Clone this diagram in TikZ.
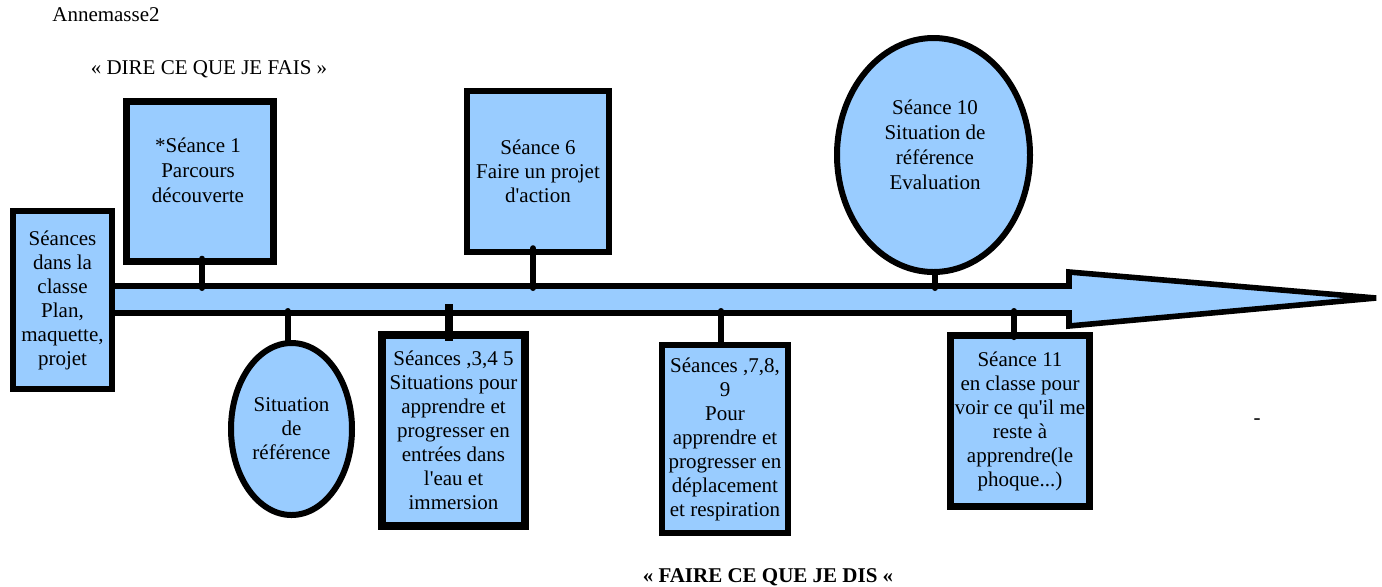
\documentclass[tikz,border=0pt]{standalone}
\usepackage{fontspec}
\setmainfont{Liberation Serif}
\usetikzlibrary{shapes.geometric,calc}
\definecolor{lb}{RGB}{153,204,255}
\newcommand{\apos}{\textquotesingle}
\tikzset{
  box/.style={draw=black, fill=lb, line width=3.2pt, rectangle, inner sep=0pt, align=center, font=\rmfamily\fontsize{10.5}{12}\selectfont},
  oval/.style={draw=black, fill=lb, line width=3pt, ellipse, inner sep=0pt, align=center, font=\rmfamily\fontsize{10.5}{12}\selectfont},
  txt/.style={inner sep=0pt, align=center, font=\rmfamily\fontsize{10.5}{12.5}\selectfont},
  stub/.style={draw=black, line width=3pt, line cap=round},
  bigarrow/.style={draw=black, fill=lb, line width=2.8pt, line join=miter}
}
\begin{document}
\begin{tikzpicture}[x=0.5pt,y=-0.5pt]
\useasboundingbox (0,0) rectangle (1382,586);
% arrow (timeline)
\draw[bigarrow] (112,286) -- (1069,286) -- (1069,272) -- (1376,298) -- (1069,326) -- (1069,313) -- (112,313) -- cycle;
\coordinate (top) at (0,288);
\coordinate (bot) at (0,311);
\coordinate (mid) at (0,304);
% headers
\node[txt] (ann) at (106,15) {Annemasse2};
\node[txt] (dire) at (209,69) {« DIRE CE QUE JE FAIS »};
\node[txt, font=\rmfamily\fontsize{10.5}{12.5}\selectfont\bfseries] (faire) at (768,577) {« FAIRE CE QUE JE DIS «};
\node[txt] (dash) at (1257,422) {-};
% nodes
\node[box, minimum width=99*0.5pt, minimum height=178*0.5pt] (classe) at (62.5,300)
  {Séances\\dans la\\classe\\Plan,\\maquette,\\projet};
\node[box, minimum width=147*0.5pt, minimum height=160*0.5pt] (s1) at (200,181.5) {};
\node[txt] (s1t) at (198,170) {*Séance 1\\Parcours\\découverte};
\node[box, minimum width=142*0.5pt, minimum height=161*0.5pt] (s6) at (538,171.5)
  {Séance 6\\Faire un projet\\d\apos action};
\node[oval, minimum width=193*0.5pt, minimum height=234*0.5pt] (s10) at (933.5,155) {};
\node[txt] (s10t) at (935,145) {Séance 10\\Situation de\\référence\\Evaluation};
\node[oval, minimum width=121*0.5pt, minimum height=172*0.5pt] (sit) at (291.5,429)
  {Situation\\de\\référence};
\node[box, line width=3.8pt, minimum width=143*0.5pt, minimum height=191*0.5pt] (s345) at (453.5,430.5)
  {Séances ,3,4 5\\Situations pour\\apprendre et\\progresser en\\entrées dans\\l\apos eau et\\immersion};
\node[box, minimum width=126*0.5pt, minimum height=188*0.5pt] (s789) at (725,439)
  {Séances ,7,8,\\9\\Pour\\apprendre et\\progresser en\\déplacement\\et respiration};
\node[box, line width=3.4pt, minimum width=139*0.5pt, minimum height=171*0.5pt] (s11) at (1020,421)
  {Séance 11\\en classe pour\\voir ce qu\apos il me\\reste à\\apprendre(le\\phoque...)};
% connector end points
\path ($(s1.south)+(2,-6)$) coordinate (c1);
\path ($(s6.south)+(-5,-7)$) coordinate (c6);
\path ($(s10.south)+(1.5,0)$) coordinate (c10);
\path ($(sit.north)+(-4,0)$) coordinate (csit);
\path ($(s345.north)+(-5,10)$) coordinate (c345);
\path ($(s789.north)+(-4,0)$) coordinate (c789);
\path ($(s11.north)+(-6,5)$) coordinate (c11);
% connectors
\draw[stub] (c1) -- (c1 |- top);
\draw[stub] (c6) -- (c6 |- top);
\draw[stub] (c10) -- (c10 |- top);
\draw[stub] (csit |- bot) -- (csit);
\draw[stub, line width=4pt, line cap=butt] (c345 |- mid) -- (c345);
\draw[stub] (c789 |- bot) -- (c789);
\draw[stub] (c11 |- bot) -- (c11);
\end{tikzpicture}
\end{document}
